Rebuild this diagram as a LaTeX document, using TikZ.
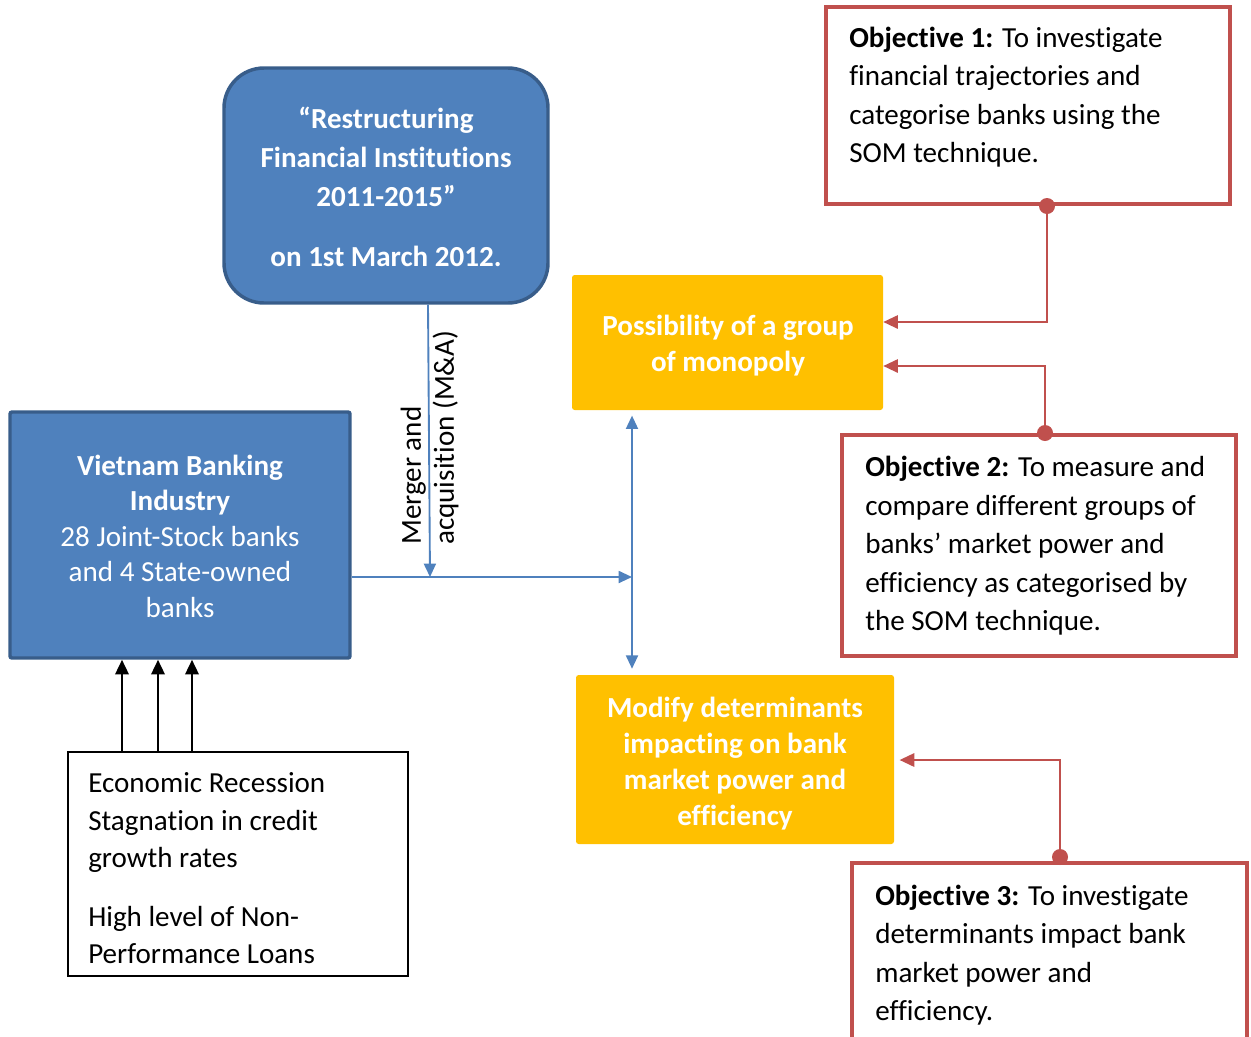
\documentclass[tikz,border=0pt]{standalone}
\usepackage{fontspec}
\setmainfont[Ligatures=NoCommon]{Carlito}
\usetikzlibrary{arrows.meta}
\definecolor{bfill}{HTML}{4F81BD}
\definecolor{bdraw}{HTML}{385D8A}
\definecolor{yfill}{HTML}{FFC000}
\definecolor{rdraw}{HTML}{C0504D}
\begin{document}
\begin{tikzpicture}[x=0.75pt,y=-0.75pt,
  bluebox/.style={draw=bdraw,fill=bfill,line width=2.6pt,inner sep=0pt},
  yellowbox/.style={fill=yfill,rounded corners=2pt,inner sep=0pt},
  objbox/.style={draw=rdraw,fill=white,line width=3pt,inner sep=0pt},
  plainbox/.style={draw=black,line width=0.9pt,inner sep=0pt},
  txt/.style={inner sep=0pt,font=\fontsize{21.8pt}{28.9pt}\selectfont},
  wtxt/.style={txt,text=white,align=center},
  bluearrow/.style={draw=bfill,line width=1.4pt,-{Triangle[length=10pt,width=9pt]}},
  redarrow/.style={draw=rdraw,line width=1.5pt,-{Triangle[length=11pt,width=10pt]}},
  blackarrow/.style={draw=black,line width=1.8pt,-{Triangle[length=11pt,width=10pt]}},
  reddot/.style={fill=rdraw,draw=none,circle,minimum size=12pt,inner sep=0pt}
]
\useasboundingbox (0,0) rectangle (1251,1036);
\clip (0,0) rectangle (1251,1036);

% boxes
\node[bluebox,rounded corners=30pt,minimum width=243pt,minimum height=176.25pt] (restr) at (386,185.5) {};
\node[bluebox,rounded corners=1.5pt,minimum width=255pt,minimum height=184.5pt] (viet) at (180,535) {};
\node[yellowbox,minimum width=233.25pt,minimum height=101.25pt] (yel1) at (727.5,342.5) {};
\node[yellowbox,minimum width=238.5pt,minimum height=126.75pt] (yel2) at (735,759.5) {};
\node[objbox,minimum width=303pt,minimum height=147.75pt] (obj1) at (1028,105.5) {};
\node[objbox,minimum width=295.5pt,minimum height=165.75pt] (obj2) at (1039,545.5) {};
\node[objbox,minimum width=296.25pt,minimum height=147.75pt] (obj3) at (1049.5,961.5) {};
\node[plainbox,minimum width=255pt,minimum height=168pt] (econ) at (238,864) {};

% texts
\node[wtxt,font=\fontsize{21.8pt}{29.2pt}\selectfont\bfseries] (restrtxt) at (386,187)
  {“Restructuring\\Financial Institutions\\2011-2015”\\[15.5pt]on 1st March 2012.};
\node[wtxt,font=\fontsize{21.8pt}{26.6pt}\selectfont] (viettxt) at (180,536)
  {\textbf{Vietnam Banking}\\\textbf{Industry}\\28 Joint-Stock banks\\and 4 State-owned\\banks};
\node[wtxt,font=\fontsize{21.8pt}{27pt}\selectfont\bfseries] (yel1txt) at (728,346)
  {Possibility of a group\\of monopoly};
\node[wtxt,font=\fontsize{21.8pt}{26.8pt}\selectfont\bfseries] (yel2txt) at (735,763.5)
  {Modify determinants\\impacting on bank\\market power and\\efficiency};
\node[txt,align=left,anchor=west] (obj1txt) at (849,97)
  {\textbf{Objective 1:} To investigate\\financial trajectories and\\categorise banks using the\\SOM technique.};
\node[txt,align=left,anchor=west] (obj2txt) at (865,546)
  {\textbf{Objective 2:} To measure and\\compare different groups of\\banks’ market power and\\efficiency as categorised by\\the SOM technique.};
\node[txt,align=left,anchor=west] (obj3txt) at (875,955)
  {\textbf{Objective 3:} To investigate\\determinants impact bank\\market power and\\efficiency.};
\node[txt,align=left,anchor=west,font=\fontsize{21.8pt}{27.8pt}\selectfont] (econtxt) at (88,868.5)
  {Economic Recession\\Stagnation in credit\\growth rates\\[17pt]High level of Non-\\Performance Loans};
\node[txt,align=left,anchor=west,rotate=90,font=\fontsize{21.8pt}{24.75pt}\selectfont] (matxt) at (429.5,545)
  {Merger and\\acquisition (M\&A)};

% blue connectors
\coordinate (mj) at (430,577);
\coordinate (vj) at (632,577);
\draw[bluearrow] (restr.south -| 428,0) -- (mj);
\draw[bluearrow] (viet.east |- mj) -- (vj);
\draw[bluearrow,{Triangle[length=10pt,width=9pt]}-{Triangle[length=10pt,width=9pt]},shorten <=4pt,shorten >=4.5pt] (yel1.south -| vj) -- (yel2.north -| vj);

% red connectors
\coordinate (r1) at (1047,322);
\coordinate (r2) at (1045,366);
\coordinate (r3) at (1060,760);
\coordinate (d3) at (1060,857);
\draw[redarrow] (obj1.south -| r1) -- (r1) -- (yel1.east |- r1);
\draw[redarrow] (obj2.north -| r2) -- (r2) -- (yel1.east |- r2);
\draw[redarrow,shorten >=4pt] (d3) -- (r3) -- (yel2.east |- r3);
\node[reddot] (dot1) at (obj1.south -| r1) {};
\node[reddot] (dot2) at (obj2.north -| r2) {};
\node[reddot] (dot3) at (d3) {};

% black arrows
\draw[blackarrow] (econ.north -| 122,0) -- (viet.south -| 122,0);
\draw[blackarrow] (econ.north -| 158,0) -- (viet.south -| 158,0);
\draw[blackarrow] (econ.north -| 192,0) -- (viet.south -| 192,0);
\end{tikzpicture}
\end{document}
